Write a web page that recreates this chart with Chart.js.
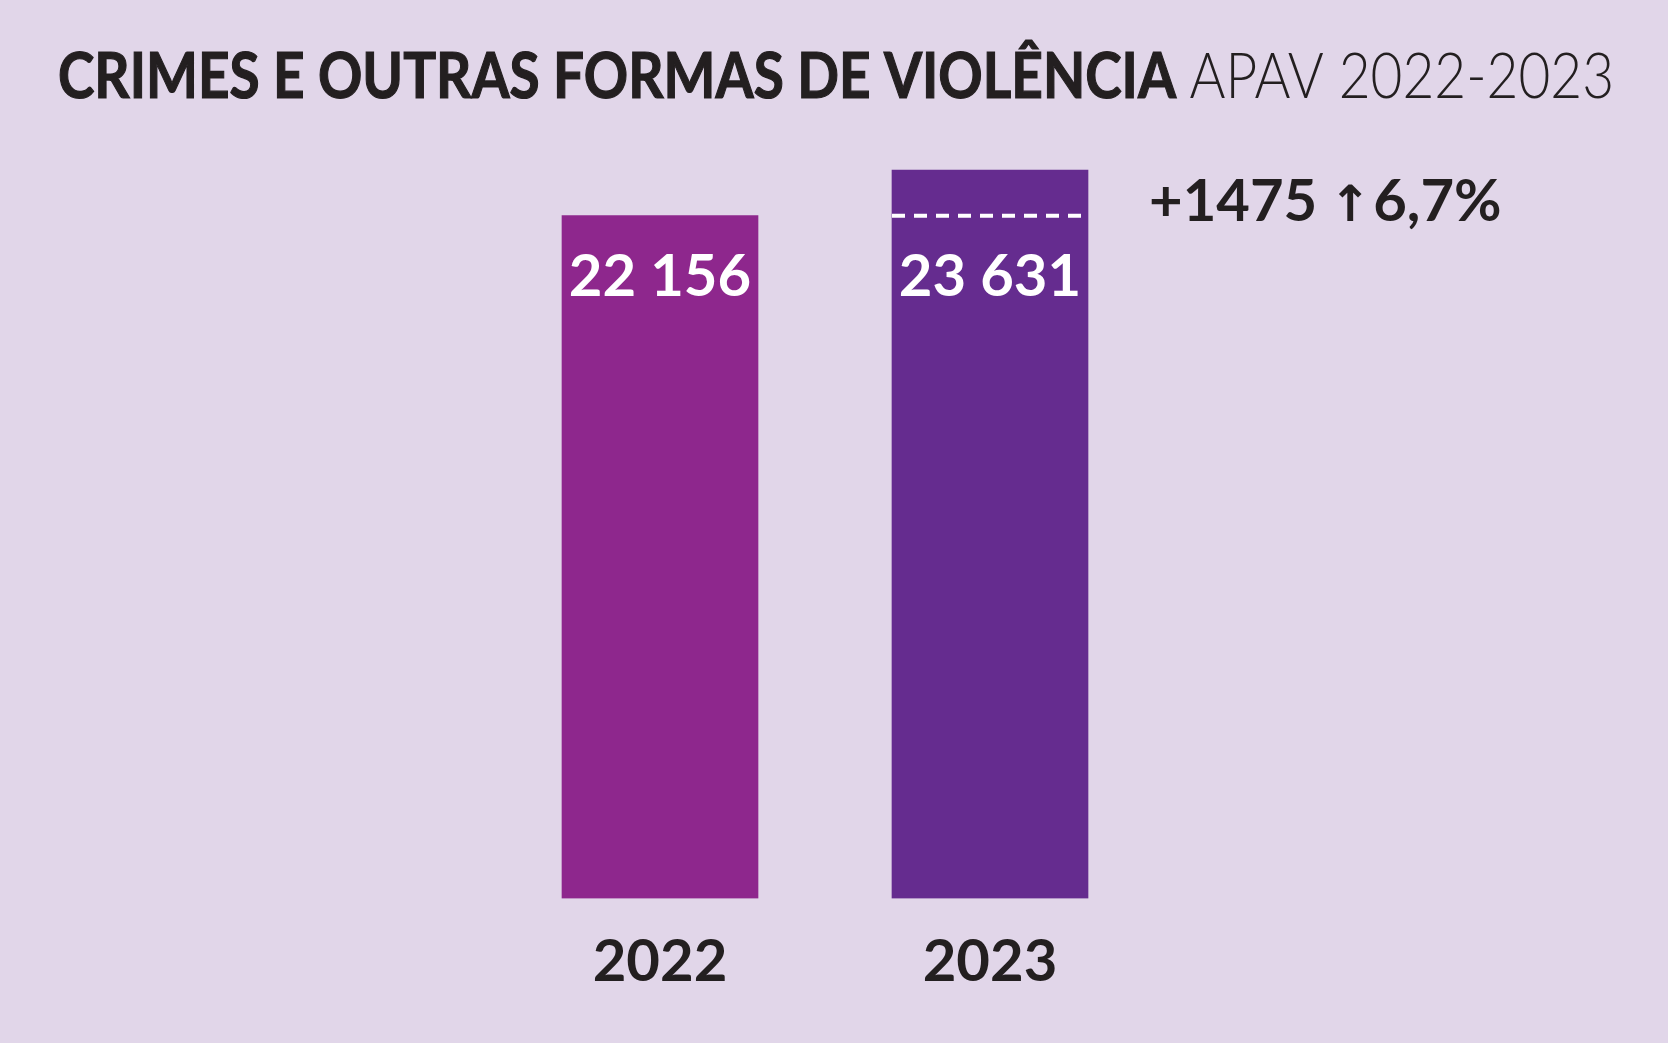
<!DOCTYPE html>
<html>
<head>
<meta charset="utf-8">
<script src="https://cdn.jsdelivr.net/npm/chart.js@4"></script>
<style>
  html, body { margin: 0; padding: 0; background: #e1d6e9; }
  #wrap { width: 1668px; height: 1043px; position: relative; }
</style>
</head>
<body>
<div id="wrap"><canvas id="myChart"></canvas></div>
<script>
const years = ['2022', '2023'];
const crimes = [22156, 23631];
const titleBold = 'CRIMES E OUTRAS FORMAS DE VIOLÊNCIA';
const titleLight = 'APAV 2022-2023';

const ink = '#231f20';
const fmt = v => String(v).replace(/\B(?=(\d{3})+(?!\d))/g, ' ');

// title, value labels, dashed previous-year line and difference note
const extras = {
  id: 'extras',
  afterDatasetsDraw(chart) {
    const c = chart.ctx;
    const meta = chart.getDatasetMeta(0);
    const y = chart.scales.y;
    const yPrev = y.getPixelForValue(crimes[0]);
    c.save();

    // title, squeezed to the reference width
    c.textBaseline = 'alphabetic';
    c.fillStyle = ink;
    c.font = 'bold 63px Lato';
    const w1 = c.measureText(titleBold + ' ').width;
    c.font = '300 63px Lato';
    const w2 = c.measureText(titleLight).width;
    const sx = 1556 / (w1 + w2);
    c.save();
    c.translate(58, 98);
    c.scale(sx, 1);
    c.textAlign = 'left';
    c.font = 'bold 63px Lato';
    c.fillText(titleBold + ' ', 0, 0);
    c.strokeStyle = ink;
    c.lineWidth = 1.2;
    c.strokeText(titleBold, 0, 0);
    c.font = '300 63px Lato';
    c.fillText(titleLight, w1, 0);
    c.restore();

    // values inside bars, all on the same line
    c.fillStyle = '#ffffff';
    c.font = 'bold 58px Lato';
    c.textAlign = 'center';
    meta.data.forEach((bar, i) => {
      c.fillText(fmt(crimes[i]), bar.x, yPrev + 80);
    });

    // dashed line at previous year's level
    const last = meta.data[1];
    c.strokeStyle = '#ffffff';
    c.lineWidth = 4;
    c.setLineDash([13, 9]);
    c.beginPath();
    c.moveTo(last.x - last.width / 2, yPrev);
    c.lineTo(last.x + last.width / 2, yPrev);
    c.stroke();
    c.setLineDash([]);

    // difference note
    const diff = crimes[1] - crimes[0];
    const pct = (diff / crimes[0] * 100).toFixed(1).replace('.', ',');
    c.fillStyle = ink;
    c.textAlign = 'left';
    c.font = 'bold 58px Lato';
    const t1 = '+' + diff + ' ';
    const nx = last.x + last.width / 2 + 61;
    c.fillText(t1, nx, 221);
    let ax = nx + c.measureText(t1).width - 2;
    c.font = 'bold 50px "DejaVu Sans"';
    c.fillText('↑', ax, 221);
    ax += c.measureText('↑').width + 2;
    c.font = 'bold 58px Lato';
    c.fillText(pct + '%', ax, 221);

    c.restore();
  }
};

const ctx = document.getElementById('myChart').getContext('2d');
const myChart = new Chart(ctx, {
  type: 'bar',
  data: {
    labels: years,
    datasets: [{
      data: crimes,
      backgroundColor: ['#8e278d', '#652c8f'],
      borderWidth: 0,
      barThickness: 196
    }]
  },
  options: {
    responsive: true,
    maintainAspectRatio: false,
    devicePixelRatio: 1,
    animation: false,
    layout: { padding: { left: 495, right: 513, top: 128, bottom: 17 } },
    plugins: {
      legend: { display: false },
      tooltip: { enabled: false }
    },
    scales: {
      x: {
        grid: { display: false, drawTicks: false },
        border: { display: false },
        ticks: {
          color: ink,
          padding: 29,
          font: { family: 'Lato', weight: 'bold', size: 58 }
        }
      },
      y: {
        display: false,
        min: 0,
        max: 25000
      }
    }
  },
  plugins: [extras]
});
</script>
</body>
</html>
